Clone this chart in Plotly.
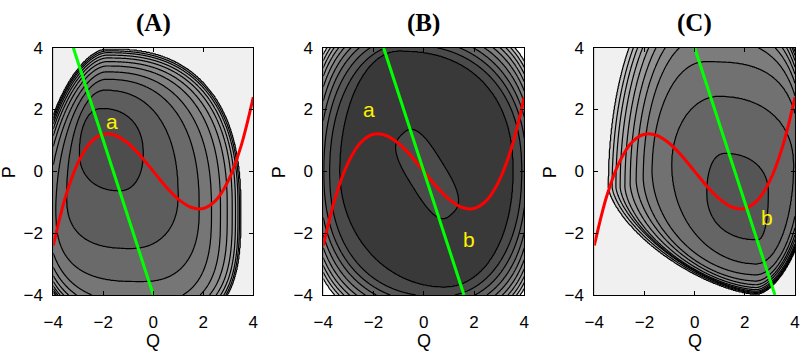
import numpy as np
import plotly.graph_objects as go

# ---------------- data ----------------
# red curve (same in all panels)
curve_q = [-4.0, -3.5, -3.0, -2.5, -2.0, -1.5, -1.0, -0.5, 0.0, 0.5, 1.0, 1.5, 2.0, 2.5, 3.0, 3.5, 4.0]
curve_p = [-2.4, -0.79, 0.3, 0.94, 1.2, 1.16, 0.9, 0.49, 0.0, -0.49, -0.9, -1.16, -1.2, -0.94, -0.3, 0.79, 2.4]

# green lines (endpoints at P = 4 and P = -4)
green_p = [4.0, -4.0]
green_q_A = [-3.2, 0.0]
green_q_B = [-1.6, 1.6]
green_q_C = [0.0, 3.2]

# yellow labels
labels_A = [("a", -1.67, 1.6)]
labels_B = [("a", -2.18, 2.0), ("b", 1.8, -2.2)]
labels_C = [("b", 2.9, -1.5)]

ticks = [-4, -2, 0, 2, 4]

# contour lines of each panel: top point (qt, pt), bottom point (qb, pb),
# left/right extent (ql, qr) at height pc, and quadrant roundness
A_qt = [-2.05, -1.95, -1.9, -1.9, -1.88, -1.87, -1.86, -1.86, -1.86, -1.86, -1.86]
A_pt = [2.04, 2.63, 2.98, 3.22, 3.41, 3.55, 3.67, 3.76, 3.84, 3.90, 3.95]
A_qb = [-1.35, -0.9, -0.5, -0.4, -0.4, -0.4, -0.4, -0.4, -0.4, -0.4, -0.4]
A_pb = [-0.63, -2.5, -3.57, -4.25, -4.5, -4.68, -4.82, -4.93, -5.01, -5.07, -5.1]
A_ql = [-2.96, -3.47, -3.9, -4.2, -4.37, -4.49, -4.57, -4.63, -4.67, -4.7, -4.72]
A_qr = [-0.4, 1.0, 1.84, 2.33, 2.69, 2.96, 3.16, 3.29, 3.39, 3.45, 3.49]
A_pc = [0.6, -0.8, -1.2, -1.3, -1.3, -1.3, -1.3, -1.3, -1.3, -1.3, -1.3]
A_nul = [2.2, 2.0, 1.85, 1.75, 1.75, 1.75, 1.75, 1.75, 1.75, 1.75, 1.75]
A_nur = [2.2, 2.3, 2.4, 2.45, 2.5, 2.5, 2.5, 2.5, 2.5, 2.5, 2.5]
A_nll = [2.2, 2.6, 2.8, 2.6, 2.6, 2.6, 2.6, 2.6, 2.6, 2.6, 2.6]
A_nlr = [2.2, 2.2, 2.5, 2.8, 3.0, 3.0, 3.0, 3.0, 3.0, 3.0, 3.0]
A_colors = ['#4d4d4d', '#5d5d5d', '#6a6a6a', '#767676', '#818181', '#8b8b8b',
            '#959595', '#9f9f9f', '#a9a9a9', '#b3b3b3', '#bdbdbd', '#f0f0f0']

B_qt = [-1.0, -0.8, -0.8, -0.8, -0.8, -0.8, -0.8, -0.8, -0.8, -0.8]
B_pt = [3.9, 4.1, 4.3, 4.48, 4.63, 4.76, 4.87, 4.96, 5.03, 5.09]
B_qb = [0.8, 0.6, 0.6, 0.6, 0.6, 0.6, 0.6, 0.6, 0.6, 0.6]
B_pb = [-3.75, -4.05, -4.25, -4.42, -4.56, -4.68, -4.78, -4.86, -4.93, -4.99]
B_ql = [-3.35, -3.75, -3.98, -4.15, -4.28, -4.39, -4.48, -4.55, -4.61, -4.66]
B_qr = [3.56, 3.9, 4.08, 4.23, 4.35, 4.45, 4.53, 4.6, 4.66, 4.71]
B_pc = [0.0, 0.0, 0.0, 0.0, 0.0, 0.0, 0.0, 0.0, 0.0, 0.0]
B_nul = [2.0, 2.1, 2.2, 2.3, 2.4, 2.5, 2.6, 2.7, 2.8, 2.9]
B_nur = [2.3, 2.3, 2.35, 2.4, 2.5, 2.6, 2.7, 2.8, 2.9, 3.0]
B_nll = [2.0, 2.3, 2.35, 2.4, 2.5, 2.6, 2.7, 2.8, 2.9, 3.0]
B_nlr = [2.1, 2.2, 2.3, 2.4, 2.5, 2.6, 2.7, 2.8, 2.9, 3.0]
# inner (raised) island of panel B: centre, axis direction, half sizes, roundness
B_inner_q, B_inner_p = 0.13, -0.085
B_inner_dir = (0.61, -0.79)
B_inner_half = (1.62, 0.7)
B_inner_n = 3.0
B_colors = ['#393939', '#4a4a4a', '#575757', '#646464', '#717171', '#7f7f7f',
            '#8d8d8d', '#9c9c9c', '#adadad', '#c4c4c4', '#ffffff']

C_qt = [1.2, 0.95, 0.4, 0.2, 0.1, 0.0, -0.1, -0.15, -0.2, -0.25, -0.3]
C_pt = [0.58, 2.43, 3.55, 4.3, 4.75, 5.1, 5.4, 5.65, 5.85, 6.0, 6.15]
C_qb = [2.5, 2.45, 2.45, 2.45, 2.45, 2.45, 2.45, 2.45, 2.45, 2.45, 2.45]
C_pb = [-2.22, -3.0, -3.35, -3.55, -3.67, -3.76, -3.83, -3.88, -3.92, -3.95, -3.97]
C_ql = [0.48, -0.92, -1.7, -2.05, -2.33, -2.57, -2.78, -2.97, -3.14, -3.29, -3.43]
C_qr = [2.94, 3.95, 4.2, 4.3, 4.38, 4.44, 4.48, 4.51, 4.53, 4.55, 4.56]
C_pc = [-0.7, 0.2, 0.0, -0.2, -0.3, -0.4, -0.5, -0.5, -0.5, -0.5, -0.5]
C_nul = [2.2, 2.0, 2.0, 2.0, 2.0, 2.0, 2.0, 2.0, 2.0, 2.0, 2.0]
C_nur = [2.2, 2.2, 3.0, 3.0, 3.0, 3.0, 3.0, 3.0, 3.0, 3.0, 3.0]
C_nll = [2.2, 2.0, 1.9, 1.8, 1.7, 1.65, 1.6, 1.55, 1.5, 1.5, 1.5]
C_nlr = [2.2, 2.0, 1.9, 1.8, 1.75, 1.7, 1.7, 1.7, 1.7, 1.7, 1.7]
C_colors = ['#555555', '#656565', '#717171', '#7c7c7c', '#878787', '#919191',
            '#9b9b9b', '#a5a5a5', '#afafaf', '#b9b9b9', '#c3c3c3', '#f0f0f0']

# ---------------- building the level fields ----------------
grid = np.linspace(-4, 4, 321)
QQ, PP = np.meshgrid(grid, grid)


def norm_one(qt, pt, qb, pb, ql, qr, pc, nul, nur, nll, nlr):
    up = PP >= pc
    dq = QQ - np.where(up, qt, qb)
    dp = PP - pc
    a = np.where(up, np.where(dq < 0, qt - ql, qr - qt), np.where(dq < 0, qb - ql, qr - qb))
    b = np.where(up, pt - pc, pc - pb)
    n = np.where(up, np.where(dq < 0, nul, nur), np.where(dq < 0, nll, nlr))
    return (np.abs(dq / a) ** n + np.abs(dp / b) ** n) ** (1.0 / n)


def level_field(qt, pt, qb, pb, ql, qr, pc, nul, nur, nll, nlr):
    rho = np.array([norm_one(*v) for v in zip(qt, pt, qb, pb, ql, qr, pc, nul, nur, nll, nlr)])
    K = rho.shape[0]
    j = (rho > 1).sum(axis=0)
    rj = np.take_along_axis(rho, np.clip(j, 0, K - 1)[None], 0)[0]
    rjm = np.take_along_axis(rho, np.clip(j - 1, 0, K - 1)[None], 0)[0]
    den = np.where(np.abs(rjm - rj) < 1e-9, 1e-9, rjm - rj)
    frac = np.clip((rjm - 1) / den, 0.001, 0.999)
    z = np.where(j == 0, np.minimum(rho[0], 0.999),
                 np.where(j >= K, K + np.maximum(rho[K - 1] - 1, 0.001), j + frac))
    return z


zA = level_field(A_qt, A_pt, A_qb, A_pb, A_ql, A_qr, A_pc, A_nul, A_nur, A_nll, A_nlr)
zC = level_field(C_qt, C_pt, C_qb, C_pb, C_ql, C_qr, C_pc, C_nul, C_nur, C_nll, C_nlr)
zB_out = level_field(B_qt, B_pt, B_qb, B_pb, B_ql, B_qr, B_pc, B_nul, B_nur, B_nll, B_nlr)
du = (QQ - B_inner_q) * B_inner_dir[0] + (PP - B_inner_p) * B_inner_dir[1]
dv = -(QQ - B_inner_q) * B_inner_dir[1] + (PP - B_inner_p) * B_inner_dir[0]
rho_in = (np.abs(du / B_inner_half[0]) ** B_inner_n + np.abs(dv / B_inner_half[1]) ** B_inner_n) ** (1 / B_inner_n)
zB = np.maximum(zB_out, 1 + 0.5 * (1 - rho_in))

# ---------------- figure ----------------
W, H = 800, 362
plot_px = {"A": (53.3, 253.3), "B": (323.3, 524.3), "C": (594.3, 795.0)}
y_top, y_bot = 47.7, 295.0

fig = go.Figure()
panels = [("A", zA, A_colors, green_q_A, labels_A),
          ("B", zB, B_colors, green_q_B, labels_B),
          ("C", zC, C_colors, green_q_C, labels_C)]

for i, (name, z, cols, gq, labs) in enumerate(panels):
    K = len(cols) - 1
    xa = "x" if i == 0 else f"x{i + 1}"
    ya = "y" if i == 0 else f"y{i + 1}"
    cscale = [[k / K, c] for k, c in enumerate(cols)]
    fig.add_trace(go.Contour(
        x=grid, y=grid, z=np.round(z, 4), xaxis=xa, yaxis=ya,
        contours=dict(start=1, end=K, size=1, coloring="fill", showlines=True),
        line=dict(color="black", width=1.2, smoothing=1),
        colorscale=cscale, showscale=False, hoverinfo="skip"))
    fig.add_trace(go.Scatter(x=curve_q, y=curve_p, mode="lines", xaxis=xa, yaxis=ya,
                             line=dict(color="#ff0000", width=3, shape="spline"),
                             hoverinfo="skip", showlegend=False))
    fig.add_trace(go.Scatter(x=gq, y=green_p, mode="lines", xaxis=xa, yaxis=ya,
                             line=dict(color="#00ff00", width=3),
                             hoverinfo="skip", showlegend=False))
    for (t, lq, lp) in labs:
        fig.add_annotation(x=lq, y=lp, xref=xa, yref=ya, text=t, showarrow=False,
                           xanchor="center", yanchor="middle",
                           font=dict(family="Liberation Sans, Arial", size=21, color="#fff200"))

    x0, x1 = plot_px[name]
    dom_x = [x0 / W, x1 / W]
    dom_y = [1 - y_bot / H, 1 - y_top / H]
    axcommon = dict(range=[-4, 4], tickvals=ticks, ticks="inside", ticklen=4,
                    tickcolor="black", showline=True, linecolor="black", linewidth=1,
                    mirror="ticks", showgrid=False, zeroline=False, automargin=False,
                    tickfont=dict(family="Liberation Sans, Arial", size=17, color="black"))
    fig.update_layout(**{
        ("xaxis" if i == 0 else f"xaxis{i + 1}"): dict(domain=dom_x, anchor=ya, ticklabelstandoff=12, **axcommon),
        ("yaxis" if i == 0 else f"yaxis{i + 1}"): dict(domain=dom_y, anchor=xa, ticklabelstandoff=6, **axcommon),
    })
    cx = (x0 + x1) / 2 / W
    fig.add_annotation(x=cx, y=1 - 23 / H, xref="paper", yref="paper", text=f"<b>({name})</b>",
                       showarrow=False, xanchor="center", yanchor="middle",
                       font=dict(family="Liberation Serif, Times New Roman", size=25, color="black"))
    fig.add_annotation(x=cx, y=1 - 341 / H, xref="paper", yref="paper", text="Q",
                       showarrow=False, xanchor="center", yanchor="middle",
                       font=dict(family="Liberation Sans, Arial", size=18, color="black"))
    fig.add_annotation(x=(x0 - 44) / W, y=1 - 172 / H, xref="paper", yref="paper", text="P",
                       showarrow=False, textangle=-90, xanchor="center", yanchor="middle",
                       font=dict(family="Liberation Sans, Arial", size=18, color="black"))

fig.update_layout(width=W, height=H, margin=dict(l=0, r=0, t=0, b=0),
                  paper_bgcolor="white", plot_bgcolor="white", showlegend=False)
fig.write_html("out.html", config={"displayModeBar": False},
               post_script="document.body.style.margin='0';document.body.style.padding='0';"
                           "document.documentElement.style.overflow='hidden';")
